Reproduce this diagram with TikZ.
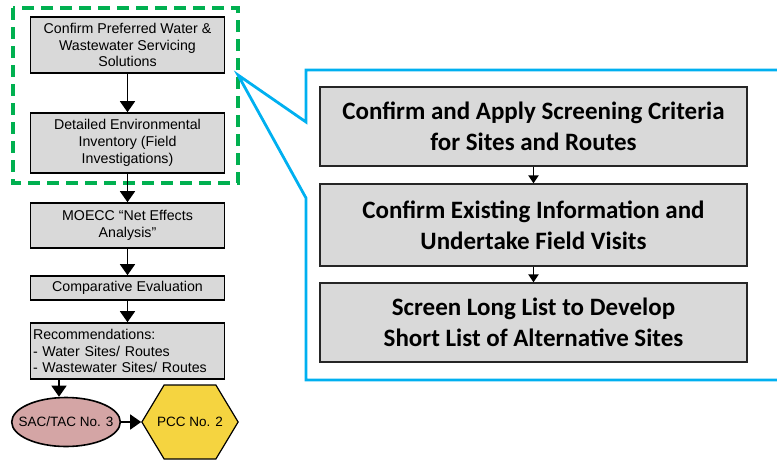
\documentclass[tikz,border=0pt]{standalone}
\usepackage{fontspec}
\setmainfont{Liberation Sans}
\newfontfamily\calib{Carlito}
\usetikzlibrary{shapes, arrows.meta, positioning, shapes.geometric}
\definecolor{boxgray}{RGB}{217,217,217}
\definecolor{zoomgreen}{RGB}{0,176,80}
\definecolor{zoomblue}{RGB}{0,176,240}
\definecolor{tacpink}{RGB}{212,165,165}
\definecolor{pccyellow}{RGB}{245,212,64}

\tikzset{
  stagebox/.style={draw=black, line width=1.6pt, fill=boxgray, minimum width=194pt, align=center,
    font=\fontsize{14.2}{16.7}\selectfont, inner sep=2pt},
  taskbox/.style={draw=black!85, line width=1.2pt, fill=boxgray, minimum width=427pt, align=center,
    font=\calib\bfseries\fontsize{25}{31}\selectfont},
  arr/.style={-{Triangle[length=11pt, width=15pt]}, line width=1.6pt},
  smallarr/.style={-{Triangle[length=8pt, width=10pt]}, line width=1.8pt}
}

\begin{document}
\begin{tikzpicture}[x=1pt, y=-1pt]
    \useasboundingbox (0,0) rectangle (777,459);

    % Left process column
    \node[stagebox, minimum height=56pt] (pref) at (127.5,45) {Confirm Preferred Water \&\\ Wastewater Servicing\\ Solutions};
    \node[stagebox, minimum height=60pt] (inventory) at (127.5,143) {Detailed Environmental\\ Inventory (Field\\ Investigations)};
    \node[stagebox, minimum height=45pt] (moecc) at (127.5,225.5) {MOECC ``Net Effects\\ Analysis''};
    \node[stagebox, minimum height=24pt] (compare) at (127.5,288) {Comparative Evaluation};
    \node[stagebox, minimum height=56pt, text width=189pt, align=left] (recom) at (127.5,351) {Recommendations:\\ - Water Sites/ Routes\\ - Wastewater Sites/ Routes};

    % Consultation steps
    \node[draw=black, line width=1.6pt, fill=tacpink, ellipse, minimum width=105pt, minimum height=49pt,
      inner xsep=-9pt, inner ysep=0pt, font=\fontsize{13.5}{16}\selectfont] (sactac) at (66,422) {SAC/TAC No. 3};
    \node[draw=black, line width=1.2pt, fill=pccyellow, signal, signal to=east and west,
      signal pointer angle=118, minimum width=94pt, minimum height=74pt, inner xsep=-7pt, inner ysep=0pt,
      font=\fontsize{13.5}{16}\selectfont] (pcc) at (190,422) {PCC No. 2};

    % Zoom frame
    \draw[zoomgreen, line width=3.5pt, dash pattern=on 12pt off 7pt] (13,8) rectangle (238,183);
    \coordinate (tip) at (238,75);
    \draw[zoomblue, line width=2.8pt, line join=miter] (779,70) -- (306,70) -- (306,122) -- (tip)
      -- (306,198) -- (306,380) -- (779,380);

    % Right detail steps
    \node[taskbox, minimum height=79pt] (criteria) at (533.5,126.5) {Confirm and Apply Screening Criteria\\ for Sites and Routes};
    \node[taskbox, minimum height=82pt] (visits) at (533.5,225) {Confirm Existing Information and\\ Undertake Field Visits};
    \node[taskbox, minimum height=79pt] (shortlist) at (533.5,322.5) {Screen Long List to Develop\\ Short List of Alternative Sites};

    % Arrows
    \draw[arr] (pref) -- (inventory);
    \draw[arr] (inventory) -- (moecc);
    \draw[arr] (moecc) -- (compare);
    \draw[arr] (compare) -- (recom);
    \draw[arr] ([xshift=-7pt]sactac.north |- recom.south) -- ([xshift=-7pt]sactac.north);
    \draw[arr] (sactac) -- (pcc);
    \draw[smallarr] (criteria) -- (visits);
    \draw[smallarr] (visits) -- (shortlist);
\end{tikzpicture}
\end{document}
